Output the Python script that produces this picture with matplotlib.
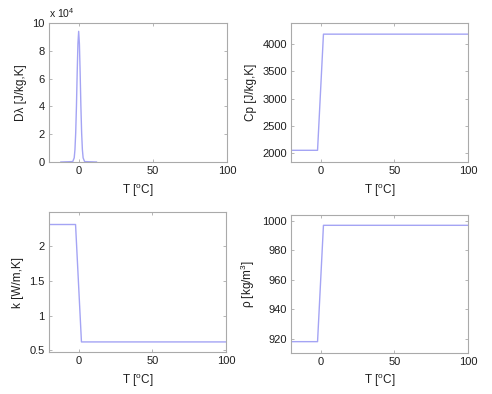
import matplotlib
matplotlib.use("Agg")
import matplotlib.pyplot as plt
from matplotlib.ticker import FuncFormatter

plt.rcParams['font.family'] = ['Liberation Sans', 'DejaVu Sans']
plt.rcParams['mathtext.fontset'] = 'custom'
plt.rcParams['mathtext.rm'] = 'Liberation Sans'

# Latent heat term D-lambda [J/kg,K]
T_dl = [-12, -4, -3, -2.5, -2, -1.5, -1, -0.5, 0, 0.5, 1, 1.5, 2, 2.5, 3, 4, 12]
D_dl = [0, 300, 3000, 9000, 21000, 40000, 64000, 85000, 94000, 85000, 64000, 40000, 21000, 9000, 3000, 300, 0]

# Specific heat Cp [J/kg,K]
T_cp = [-20, -2, 2, 100]
Cp = [2050, 2050, 4185, 4185]

# Conductivity k [W/m,K]
T_k = [-20, -2, 2, 100]
k = [2.31, 2.31, 0.62, 0.62]

# Density rho [kg/m3]
T_rho = [-20, -2, 2, 100]
rho = [918, 918, 997, 997]

xticks = [0, 50, 100]

line_color = '#a4a4f4'
spine_color = '#aaaaaa'
text_color = '#1e1e1e'

fig = plt.figure(figsize=(4.92, 3.94), dpi=100)
W, H = 492, 394

def make_ax(l, t, r, b):
    return fig.add_axes([l / W, 1 - b / H, (r - l) / W, (b - t) / H])

ax1 = make_ax(49, 23, 227, 162)
ax2 = make_ax(291, 23, 468, 162)
ax3 = make_ax(49, 212, 226, 352)
ax4 = make_ax(291, 215, 468, 352.7)

ax1.plot(T_dl, D_dl, color=line_color, lw=1.0)
ax1.set_ylim(0, 100000)
ax1.set_yticks([0, 20000, 40000, 60000, 80000, 100000])
ax1.yaxis.set_major_formatter(FuncFormatter(lambda v, p: f"{v/1e4:g}"))
ax1.set_ylabel("D\u03bb [J/kg,K]")
ax1.text(0.0, 1.02, "x 10$^4$", transform=ax1.transAxes, fontsize=7.5,
         color=text_color, ha='left', va='bottom')

ax2.plot(T_cp, Cp, color=line_color, lw=1.0)
ax2.set_ylim(1835, 4390)
ax2.set_yticks([2000, 2500, 3000, 3500, 4000])
ax2.set_ylabel("Cp [J/kg,K]")

ax3.plot(T_k, k, color=line_color, lw=1.0)
ax3.set_ylim(0.475, 2.49)
ax3.set_yticks([0.5, 1, 1.5, 2])
ax3.yaxis.set_major_formatter(FuncFormatter(lambda v, p: f"{v:g}"))
ax3.set_ylabel("k [W/m,K]")

ax4.plot(T_rho, rho, color=line_color, lw=1.0)
ax4.set_ylim(910.5, 1004)
ax4.set_yticks([920, 940, 960, 980, 1000])
ax4.set_ylabel("\u03c1 [kg/m$^3$]")

for ax in (ax1, ax2, ax3, ax4):
    ax.set_xlim(-20, 100)
    ax.set_xticks(xticks)
    ax.set_xlabel("T [$^{\\mathrm{o}}$C]", color=text_color, fontsize=8.5)
    ax.yaxis.label.set_color(text_color)
    ax.yaxis.label.set_fontsize(8.5)
    for s in ax.spines.values():
        s.set_color(spine_color)
        s.set_linewidth(0.8)
    ax.tick_params(direction='in', length=2.5, width=0.6, color=spine_color,
                   labelsize=8, labelcolor=text_color, top=True, right=True, pad=3)

fig.savefig("out.png", dpi=100)
